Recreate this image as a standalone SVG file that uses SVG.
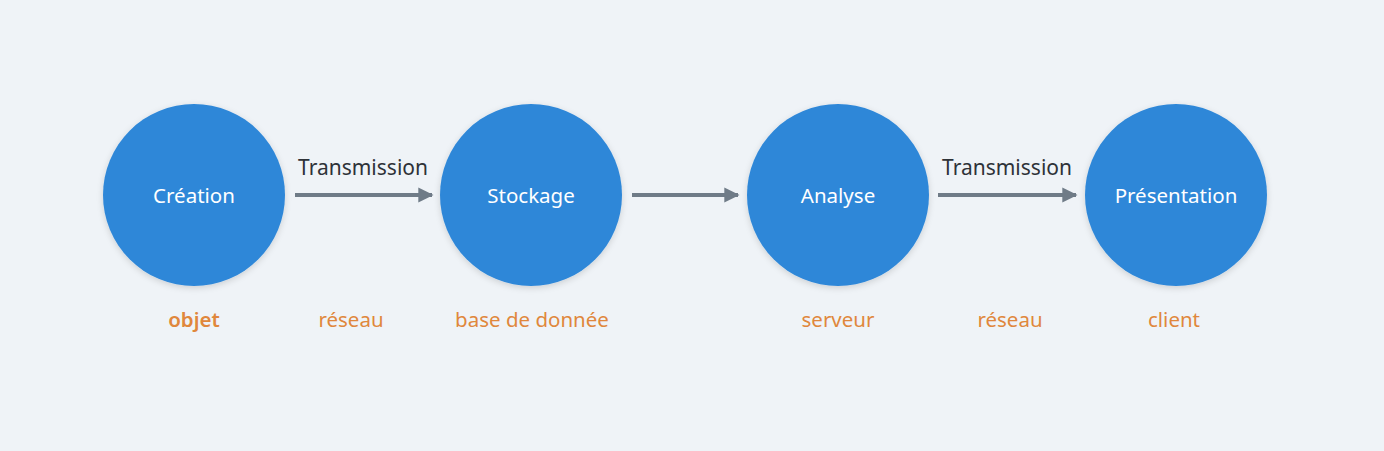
<svg xmlns="http://www.w3.org/2000/svg" width="1384" height="451" viewBox="0 0 1384 451">
<defs>
<filter id="sh" x="-20%" y="-20%" width="140%" height="140%"><feDropShadow dx="0" dy="2" stdDeviation="3" flood-color="#000" flood-opacity="0.15"/></filter>
<marker id="ah" viewBox="0 0 10 10" refX="9" refY="5" markerWidth="3.8" markerHeight="3.8" orient="auto"><path d="M0,0 L10,5 L0,10 z" fill="#6f7b87"/></marker>
<style>
.c{fill:#2e87d8;filter:url(#sh)}
.t{font-family:"Noto Sans","DejaVu Sans",sans-serif;font-size:20.5px;fill:#ffffff;text-anchor:middle;dominant-baseline:central}
.e{font-family:"Noto Sans","DejaVu Sans",sans-serif;font-size:21px;fill:#2e3238;text-anchor:middle}
.s{font-family:"Noto Sans","DejaVu Sans",sans-serif;font-size:20.5px;fill:#e0873c;text-anchor:middle}
.l{stroke:#6f7b87;stroke-width:4;fill:none;marker-end:url(#ah)}
</style>
</defs>
<rect width="1384" height="451" fill="#eff3f7"/>
<g id="connectors">
<line class="l" x1="295" y1="195" x2="432" y2="195"/>
<line class="l" x1="632" y1="195" x2="738" y2="195"/>
<line class="l" x1="938" y1="195" x2="1076" y2="195"/>
<text class="e" x="363" y="175">Transmission</text>
<text class="e" x="1007" y="175">Transmission</text>
</g>
<g id="creation"><circle class="c" cx="194" cy="195" r="91"/><text class="t" x="194" y="195">Création</text><text class="s" x="194" y="327" font-weight="600">objet</text></g>
<g id="reseau1"><text class="s" x="351" y="327">réseau</text></g>
<g id="stockage"><circle class="c" cx="531" cy="195" r="91"/><text class="t" x="531" y="195">Stockage</text><text class="s" x="532" y="327">base de donnée</text></g>
<g id="analyse"><circle class="c" cx="838" cy="195" r="91"/><text class="t" x="838" y="195">Analyse</text><text class="s" x="838" y="327">serveur</text></g>
<g id="reseau2"><text class="s" x="1010" y="327">réseau</text></g>
<g id="presentation"><circle class="c" cx="1176" cy="195" r="91"/><text class="t" x="1176" y="195">Présentation</text><text class="s" x="1174" y="327">client</text></g>
</svg>
